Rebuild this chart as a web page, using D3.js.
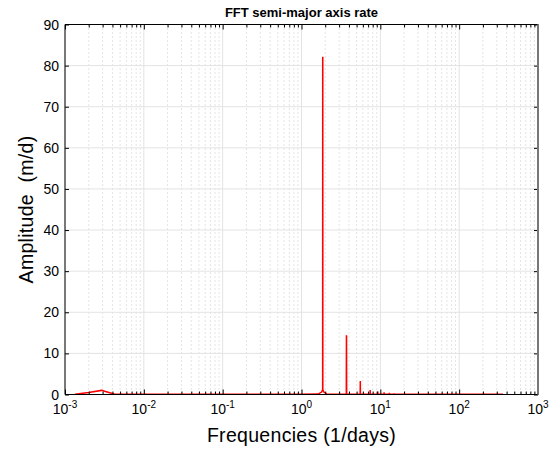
<!DOCTYPE html>
<html><head><meta charset="utf-8">
<script src="https://cdn.jsdelivr.net/npm/d3@7"></script>
<style>body{margin:0;background:#fff}svg{display:block}text{font-family:"Liberation Sans",Arial,Helvetica,sans-serif;white-space:pre}</style>
</head><body><svg id="c" width="556" height="452"></svg>
<script>
const title = "FFT semi-major axis rate";
const xLabel = "Frequencies (1/days)";
const yLabel = "Amplitude  (m/d)";
const xDecades = [-3, -2, -1, 0, 1, 2, 3];
const yTicks = [0, 10, 20, 30, 40, 50, 60, 70, 80, 90];
// red series: frequency (1/days) and amplitude (m/d)
const freq = [0.00134, 0.0020, 0.0029, 0.0036, 0.0042, 0.01, 0.1, 1.0, 1.62, 1.80, 1.855, 1.858, 1.862, 1.865, 1.92, 2.09, 2.5,
  3.70, 3.715, 3.725, 3.74, 4.6, 5.55, 5.57, 5.59, 6.5, 7.42, 7.435, 7.45, 8.4, 9.28, 9.295, 9.31, 10.2,
  11.14, 11.155, 11.17, 12.1, 13.0, 13.015, 13.03, 13.9, 14.86, 14.875, 14.89, 15.8, 16.72, 16.735, 16.75,
  17.6, 18.58, 18.595, 18.61, 19.5, 20.44, 20.455, 20.47, 21.4, 22.3, 22.315, 22.33, 30, 100, 360];
const amp = [0.05, 0.5, 1.0, 0.5, 0.1, 0.05, 0.05, 0.05, 0.1, 0.6, 1.2, 82.0, 82.0, 1.2, 0.6, 0.1, 0.05,
  0.05, 14.2, 14.2, 0.05, 0.05, 0.05, 3.3, 0.05, 0.05, 0.05, 1.1, 0.05, 0.05, 0.05, 0.7, 0.05, 0.05,
  0.05, 0.55, 0.05, 0.05, 0.05, 0.4, 0.05, 0.05, 0.05, 0.3, 0.05, 0.05, 0.05, 0.25, 0.05,
  0.05, 0.05, 0.2, 0.05, 0.05, 0.05, 0.15, 0.05, 0.05, 0.05, 0.15, 0.05, 0.05, 0.05, 0.05];

const svg = d3.select("#c");
const L = 65, R = 538, T = 24.5, B = 394.5;
const x = d3.scaleLog().domain([1e-3, 1e3]).range([L, R]);
const y = d3.scaleLinear().domain([0, 90]).range([B, T]);

// grids
const allX = x.ticks();
const majorX = xDecades.map(d => Math.pow(10, d));
const isMajor = v => majorX.some(m => Math.abs(Math.log10(v) - Math.log10(m)) < 1e-6);
const minorX = allX.filter(v => !isMajor(v));
svg.append("g").selectAll("line").data(minorX).join("line")
  .attr("x1", d => x(d)).attr("x2", d => x(d)).attr("y1", T).attr("y2", B)
  .attr("stroke", "#c8c8c8").attr("stroke-width", 1).attr("stroke-dasharray", "1,3");
svg.append("g").selectAll("line").data(majorX).join("line")
  .attr("x1", d => x(d)).attr("x2", d => x(d)).attr("y1", T).attr("y2", B)
  .attr("stroke", "#e3e3e3").attr("stroke-width", 1);
svg.append("g").selectAll("line").data(yTicks).join("line")
  .attr("x1", L).attr("x2", R).attr("y1", d => y(d)).attr("y2", d => y(d))
  .attr("stroke", "#e3e3e3").attr("stroke-width", 1);

// data line
const line = d3.line().x((d, i) => x(freq[i])).y((d, i) => y(amp[i]));
svg.append("path").datum(amp).attr("d", line).attr("fill", "none")
  .attr("stroke", "#ff0000").attr("stroke-width", 1.5);

// axes (ticks inward)
const axB = d3.axisBottom(x).tickValues(allX).tickSize(-5).tickFormat("");
const gB = svg.append("g").attr("transform", `translate(0,${B})`).call(axB);
gB.selectAll(".tick line").attr("y2", d => isMajor(d) ? -5 : -3);
const axT = d3.axisTop(x).tickValues(allX).tickSize(-5).tickFormat("");
const gT = svg.append("g").attr("transform", `translate(0,${T})`).call(axT);
gT.selectAll(".tick line").attr("y2", d => isMajor(d) ? 5 : 3);
const axL = d3.axisLeft(y).tickValues(yTicks).tickSize(-4).tickFormat("");
svg.append("g").attr("transform", `translate(${L},0)`).call(axL);
const axR = d3.axisRight(y).tickValues(yTicks).tickSize(-4).tickFormat("");
svg.append("g").attr("transform", `translate(${R},0)`).call(axR);
svg.selectAll(".domain").remove();
svg.selectAll(".tick line").attr("stroke", "#000").attr("stroke-width", 1);
svg.append("line").attr("x1", L).attr("x2", R).attr("y1", T).attr("y2", T).attr("stroke", "#000");
svg.append("line").attr("x1", L).attr("x2", R).attr("y1", B).attr("y2", B).attr("stroke", "#000");
svg.append("line").attr("x1", L).attr("x2", L).attr("y1", T).attr("y2", B).attr("stroke", "#000");
svg.append("line").attr("x1", R).attr("x2", R).attr("y1", T).attr("y2", B).attr("stroke", "#777").attr("stroke-width", 2);

// tick labels
svg.append("g").selectAll("text").data(yTicks).join("text")
  .attr("x", L - 6).attr("y", d => y(d) + 5).attr("text-anchor", "end")
  .attr("font-size", 14).text(d => d);
const xl = svg.append("g").selectAll("text").data(xDecades).join("text")
  .attr("x", d => x(Math.pow(10, d))).attr("y", 414).attr("text-anchor", "middle").attr("font-size", 14);
xl.append("tspan").text("10");
xl.append("tspan").attr("dy", -6).attr("font-size", 10).text(d => d < 0 ? "-" + (-d) : d);

// titles
svg.append("text").attr("x", (L + R) / 2).attr("y", 17).attr("text-anchor", "middle")
  .attr("font-size", 13).attr("font-weight", "bold").text(title);
svg.append("text").attr("x", (L + R) / 2).attr("y", 442).attr("text-anchor", "middle")
  .attr("font-size", 19.5).attr("letter-spacing", 0.3).text(xLabel);
svg.append("text").attr("transform", `translate(33,${(T + B) / 2}) rotate(-90)`).attr("text-anchor", "middle")
  .attr("font-size", 19.5).attr("letter-spacing", 0.3).text(yLabel);
</script></body></html>
